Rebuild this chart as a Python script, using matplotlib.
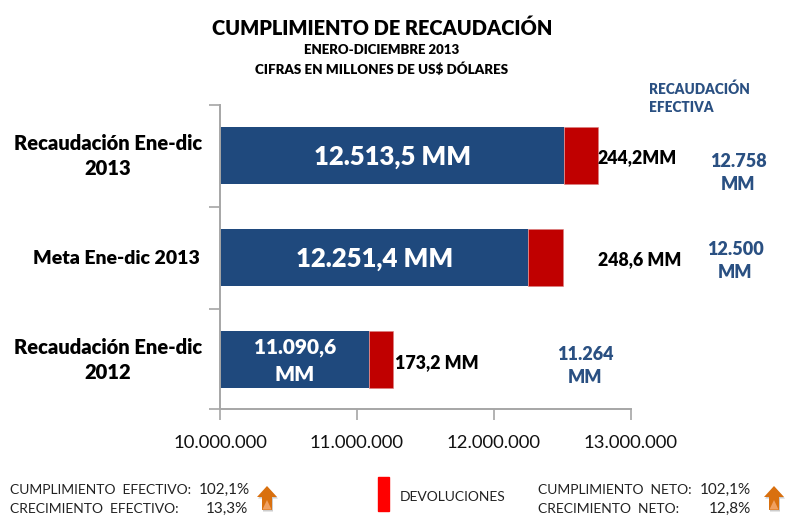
import matplotlib
matplotlib.use('Agg')
import matplotlib.pyplot as plt
from matplotlib.patches import Polygon, Rectangle

plt.rcParams['font.family'] = ['Lato', 'DejaVu Sans']

categorias = ["Recaudación Ene-dic\n2012", "Meta Ene-dic 2013", "Recaudación Ene-dic\n2013"]
recaudacion = [11090600, 12251400, 12513500]
devoluciones = [173200, 248600, 244200]
etiquetas_rec = ["11.090,6\nMM", "12.251,4 MM", "12.513,5 MM"]
etiquetas_dev = ["173,2 MM", "248,6 MM", "244,2MM"]
etiquetas_efec = ["11.264\nMM", "12.500\nMM", "12.758\nMM"]
ticks_x = [10000000, 11000000, 12000000, 13000000]
ticks_lab = ["10.000.000", "11.000.000", "12.000.000", "13.000.000"]

AZUL = "#1F497D"
ROJO = "#C00000"
GRIS = "#A6A6A6"
TEXTO_AZUL = "#2A5082"
PESO = "heavy"

W, H = 785, 516


def fx(px):
    return px / W


def fy(py):
    return 1 - py / H


fig = plt.figure(figsize=(7.85, 5.16), dpi=100)
ax = fig.add_axes([fx(220), fy(409), fx(631) - fx(220), (409 - 105) / H])

pos = [0, 1, 2]
ax.barh(pos, recaudacion, height=0.555, color=AZUL, left=0)
ax.barh(pos, devoluciones, height=0.555, color=ROJO, left=recaudacion, edgecolor="#D98080", linewidth=0.4)
ax.set_xlim(10000000, 13000000)
ax.set_ylim(-0.485, 2.495)

ax.set_xticks(ticks_x)
ax.set_xticklabels(ticks_lab, fontsize=13.3, color="#111111")
ax.set_yticks([-0.485, 0.5, 1.5, 2.495])
ax.set_yticklabels([])
ax.tick_params(axis='x', color=GRIS, length=8, width=1.2, direction='out', pad=11)
ax.tick_params(axis='y', color=GRIS, length=8, width=1.2, direction='out')
for s in ["top", "right"]:
    ax.spines[s].set_visible(False)
for s in ["left", "bottom"]:
    ax.spines[s].set_color(GRIS)
    ax.spines[s].set_linewidth(1.4)

# etiquetas dentro de las barras
for lab, tam, x_px, y_px in zip(etiquetas_rec, [15, 18.5, 18.5], [295, 375, 393], [361, 259, 157]):
    fig.text(fx(x_px), fy(y_px), lab, color="white", fontsize=tam,
             fontweight=PESO, ha="center", va="center", linespacing=1.5)

# devoluciones y recaudacion efectiva
for lab, x_px, y_px in zip(etiquetas_dev, [395, 598, 598], [363, 260, 158]):
    fig.text(fx(x_px), fy(y_px), lab, fontsize=12.8, fontweight=PESO, color="black", va="center")
for lab, x_px, y_px in zip(etiquetas_efec, [585, 735, 738], [366, 261, 173]):
    fig.text(fx(x_px), fy(y_px), lab, fontsize=13, fontweight=PESO, color=TEXTO_AZUL,
             ha="center", va="center", linespacing=1.45)

# categorias
for lab, x_px, y_px, tam in zip(categorias, [108, 116, 108], [360, 258, 156], [14.5, 14, 14.5]):
    fig.text(fx(x_px), fy(y_px), lab, fontsize=tam, fontweight=PESO, color="black",
             ha="center", va="center", linespacing=1.35)

# titulos
fig.text(fx(382), fy(28), "CUMPLIMIENTO DE RECAUDACIÓN", fontsize=14.4, fontweight=PESO, ha="center", va="center")
fig.text(fx(382), fy(50), "ENERO-DICIEMBRE 2013", fontsize=9.5, fontweight=PESO, ha="center", va="center")
fig.text(fx(382), fy(69), "CIFRAS EN MILLONES DE US$ DÓLARES", fontsize=9.6, fontweight=PESO, ha="center", va="center")
fig.text(fx(649), fy(89), "RECAUDACIÓN", fontsize=9.8, fontweight=PESO, color=TEXTO_AZUL, va="center")
fig.text(fx(649), fy(108), "EFECTIVA", fontsize=9.8, fontweight=PESO, color=TEXTO_AZUL, va="center")

# pie
pie = [
    (10, 490, "CUMPLIMIENTO  EFECTIVO:", 250, "102,1%"),
    (10, 509, "CRECIMIENTO  EFECTIVO:", 248, "13,3%"),
    (538, 490, "CUMPLIMIENTO  NETO:", 751, "102,1%"),
    (538, 509, "CRECIMIENTO  NETO:", 751, "12,8%"),
]
for x0, y0, lab, x1, val in pie:
    fig.text(fx(x0), fy(y0), lab, fontsize=10, color="#222222", va="center")
    fig.text(fx(x1), fy(y0), val, fontsize=11, color="#222222", va="center", ha="right")

fig.text(fx(400), fy(497), "DEVOLUCIONES", fontsize=10, color="#222222", va="center")
fig.add_artist(Rectangle((fx(378), fy(511)), 11 / W, 34 / H, color="#FF0000", transform=fig.transFigure))

# flechas naranjas
for cx in [267, 774]:
    forma = [(cx, 486), (cx + 10, 497), (cx + 5, 497), (cx + 5, 510), (cx - 5, 510), (cx - 5, 497), (cx - 10, 497)]
    sombra = [(a + 1, b + 1.5) for a, b in forma]
    fig.add_artist(Polygon([(fx(a), fy(b)) for a, b in sombra], closed=True, facecolor="#CCCCCC",
                           edgecolor="none", transform=fig.transFigure))
    fig.add_artist(Polygon([(fx(a), fy(b)) for a, b in forma], closed=True, facecolor="#D9700F",
                           edgecolor="none", transform=fig.transFigure))
    brillo = [(cx, 500), (cx + 4.5, 509.5), (cx - 4.5, 509.5)]
    fig.add_artist(Polygon([(fx(a), fy(b)) for a, b in brillo], closed=True, facecolor="#F0A060",
                           edgecolor="none", transform=fig.transFigure))

fig.savefig("out.png", dpi=100)
